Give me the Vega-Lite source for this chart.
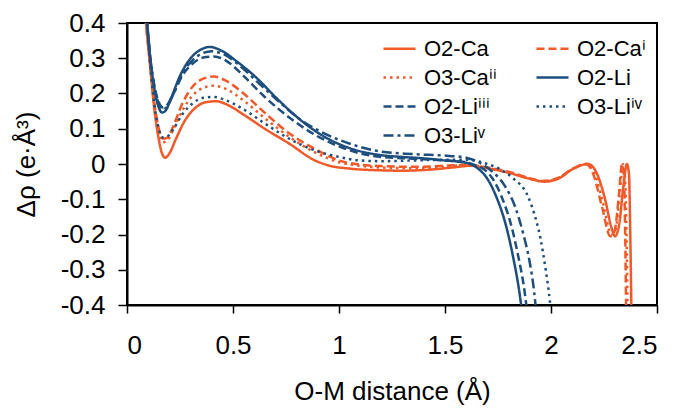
{
  "$schema": "https://vega.github.io/schema/vega-lite/v6.json",
  "width": 530,
  "height": 282,
  "autosize": {"type": "none"},
  "padding": {"left": 127, "top": 23, "right": 25, "bottom": 103},
  "background": "white",
  "config": {
    "font": "Liberation Sans",
    "view": {"stroke": "black", "strokeWidth": 2},
    "axis": {"grid": false, "domainColor": "black", "domainWidth": 2, "tickColor": "black", "tickWidth": 1.5, "labelColor": "black", "titleColor": "black", "labelFont": "Liberation Sans", "titleFont": "Liberation Sans", "labelFontSize": 26, "titleFontSize": 26, "titleFontWeight": "normal"}
  },
  "data": {"values": [
    {"s":"O2-Ca","x":0.08,"y":0.48},{"s":"O2-Ca","x":0.09,"y":0.40},{"s":"O2-Ca","x":0.11,"y":0.27},{"s":"O2-Ca","x":0.13,"y":0.15},{"s":"O2-Ca","x":0.15,"y":0.07},{"s":"O2-Ca","x":0.165,"y":0.03},{"s":"O2-Ca","x":0.18,"y":0.018},{"s":"O2-Ca","x":0.2,"y":0.03},{"s":"O2-Ca","x":0.23,"y":0.07},{"s":"O2-Ca","x":0.27,"y":0.12},{"s":"O2-Ca","x":0.32,"y":0.158},{"s":"O2-Ca","x":0.37,"y":0.175},{"s":"O2-Ca","x":0.42,"y":0.178},{"s":"O2-Ca","x":0.48,"y":0.166},{"s":"O2-Ca","x":0.55,"y":0.14},{"s":"O2-Ca","x":0.65,"y":0.1},{"s":"O2-Ca","x":0.77,"y":0.056},{"s":"O2-Ca","x":0.88,"y":0.012},{"s":"O2-Ca","x":0.95,"y":-0.004},{"s":"O2-Ca","x":1.05,"y":-0.013},{"s":"O2-Ca","x":1.2,"y":-0.018},{"s":"O2-Ca","x":1.3,"y":-0.019},{"s":"O2-Ca","x":1.45,"y":-0.015},{"s":"O2-Ca","x":1.55,"y":-0.009},{"s":"O2-Ca","x":1.62,"y":-0.005},{"s":"O2-Ca","x":1.7,"y":-0.012},{"s":"O2-Ca","x":1.8,"y":-0.025},{"s":"O2-Ca","x":1.9,"y":-0.042},{"s":"O2-Ca","x":1.97,"y":-0.05},{"s":"O2-Ca","x":2.04,"y":-0.04},{"s":"O2-Ca","x":2.1,"y":-0.015},{"s":"O2-Ca","x":2.175,"y":0.0},{"s":"O2-Ca","x":2.215,"y":-0.025},{"s":"O2-Ca","x":2.255,"y":-0.1},{"s":"O2-Ca","x":2.285,"y":-0.18},{"s":"O2-Ca","x":2.302,"y":-0.205},{"s":"O2-Ca","x":2.322,"y":-0.17},{"s":"O2-Ca","x":2.342,"y":-0.06},{"s":"O2-Ca","x":2.358,"y":0.0},{"s":"O2-Ca","x":2.368,"y":-0.03},{"s":"O2-Ca","x":2.374,"y":-0.2},{"s":"O2-Ca","x":2.38,"y":-0.45},
    {"s":"O2-Caⁱ","x":0.08,"y":0.48},{"s":"O2-Caⁱ","x":0.09,"y":0.40},{"s":"O2-Caⁱ","x":0.11,"y":0.28},{"s":"O2-Caⁱ","x":0.13,"y":0.17},{"s":"O2-Caⁱ","x":0.15,"y":0.10},{"s":"O2-Caⁱ","x":0.17,"y":0.072},{"s":"O2-Caⁱ","x":0.19,"y":0.075},{"s":"O2-Caⁱ","x":0.22,"y":0.11},{"s":"O2-Caⁱ","x":0.26,"y":0.17},{"s":"O2-Caⁱ","x":0.31,"y":0.22},{"s":"O2-Caⁱ","x":0.36,"y":0.242},{"s":"O2-Caⁱ","x":0.41,"y":0.248},{"s":"O2-Caⁱ","x":0.47,"y":0.235},{"s":"O2-Caⁱ","x":0.55,"y":0.2},{"s":"O2-Caⁱ","x":0.65,"y":0.145},{"s":"O2-Caⁱ","x":0.77,"y":0.085},{"s":"O2-Caⁱ","x":0.88,"y":0.045},{"s":"O2-Caⁱ","x":1.0,"y":0.01},{"s":"O2-Caⁱ","x":1.1,"y":-0.002},{"s":"O2-Caⁱ","x":1.2,"y":-0.006},{"s":"O2-Caⁱ","x":1.35,"y":-0.008},{"s":"O2-Caⁱ","x":1.5,"y":-0.005},{"s":"O2-Caⁱ","x":1.6,"y":-0.002},{"s":"O2-Caⁱ","x":1.7,"y":-0.01},{"s":"O2-Caⁱ","x":1.8,"y":-0.022},{"s":"O2-Caⁱ","x":1.9,"y":-0.04},{"s":"O2-Caⁱ","x":1.96,"y":-0.048},{"s":"O2-Caⁱ","x":2.03,"y":-0.04},{"s":"O2-Caⁱ","x":2.1,"y":-0.015},{"s":"O2-Caⁱ","x":2.165,"y":0.0},{"s":"O2-Caⁱ","x":2.2,"y":-0.03},{"s":"O2-Caⁱ","x":2.24,"y":-0.12},{"s":"O2-Caⁱ","x":2.28,"y":-0.205},{"s":"O2-Caⁱ","x":2.3,"y":-0.19},{"s":"O2-Caⁱ","x":2.32,"y":-0.09},{"s":"O2-Caⁱ","x":2.335,"y":0.0},{"s":"O2-Caⁱ","x":2.345,"y":-0.05},{"s":"O2-Caⁱ","x":2.35,"y":-0.2},{"s":"O2-Caⁱ","x":2.355,"y":-0.45},
    {"s":"O3-Caⁱⁱ","x":0.08,"y":0.48},{"s":"O3-Caⁱⁱ","x":0.09,"y":0.40},{"s":"O3-Caⁱⁱ","x":0.11,"y":0.28},{"s":"O3-Caⁱⁱ","x":0.13,"y":0.16},{"s":"O3-Caⁱⁱ","x":0.15,"y":0.09},{"s":"O3-Caⁱⁱ","x":0.17,"y":0.062},{"s":"O3-Caⁱⁱ","x":0.19,"y":0.066},{"s":"O3-Caⁱⁱ","x":0.22,"y":0.1},{"s":"O3-Caⁱⁱ","x":0.26,"y":0.15},{"s":"O3-Caⁱⁱ","x":0.31,"y":0.195},{"s":"O3-Caⁱⁱ","x":0.36,"y":0.216},{"s":"O3-Caⁱⁱ","x":0.41,"y":0.222},{"s":"O3-Caⁱⁱ","x":0.47,"y":0.212},{"s":"O3-Caⁱⁱ","x":0.55,"y":0.18},{"s":"O3-Caⁱⁱ","x":0.65,"y":0.13},{"s":"O3-Caⁱⁱ","x":0.77,"y":0.075},{"s":"O3-Caⁱⁱ","x":0.88,"y":0.035},{"s":"O3-Caⁱⁱ","x":1.0,"y":0.005},{"s":"O3-Caⁱⁱ","x":1.1,"y":-0.005},{"s":"O3-Caⁱⁱ","x":1.2,"y":-0.01},{"s":"O3-Caⁱⁱ","x":1.35,"y":-0.012},{"s":"O3-Caⁱⁱ","x":1.5,"y":-0.008},{"s":"O3-Caⁱⁱ","x":1.6,"y":-0.003},{"s":"O3-Caⁱⁱ","x":1.7,"y":-0.011},{"s":"O3-Caⁱⁱ","x":1.8,"y":-0.024},{"s":"O3-Caⁱⁱ","x":1.9,"y":-0.042},{"s":"O3-Caⁱⁱ","x":1.965,"y":-0.05},{"s":"O3-Caⁱⁱ","x":2.035,"y":-0.04},{"s":"O3-Caⁱⁱ","x":2.1,"y":-0.014},{"s":"O3-Caⁱⁱ","x":2.165,"y":0.0},{"s":"O3-Caⁱⁱ","x":2.205,"y":-0.025},{"s":"O3-Caⁱⁱ","x":2.245,"y":-0.11},{"s":"O3-Caⁱⁱ","x":2.285,"y":-0.2},{"s":"O3-Caⁱⁱ","x":2.305,"y":-0.185},{"s":"O3-Caⁱⁱ","x":2.325,"y":-0.08},{"s":"O3-Caⁱⁱ","x":2.34,"y":0.0},{"s":"O3-Caⁱⁱ","x":2.35,"y":-0.05},{"s":"O3-Caⁱⁱ","x":2.356,"y":-0.2},{"s":"O3-Caⁱⁱ","x":2.362,"y":-0.45},
    {"s":"O2-Li","x":0.085,"y":0.48},{"s":"O2-Li","x":0.095,"y":0.40},{"s":"O2-Li","x":0.11,"y":0.30},{"s":"O2-Li","x":0.13,"y":0.21},{"s":"O2-Li","x":0.15,"y":0.16},{"s":"O2-Li","x":0.165,"y":0.146},{"s":"O2-Li","x":0.18,"y":0.15},{"s":"O2-Li","x":0.21,"y":0.19},{"s":"O2-Li","x":0.25,"y":0.25},{"s":"O2-Li","x":0.3,"y":0.3},{"s":"O2-Li","x":0.35,"y":0.325},{"s":"O2-Li","x":0.39,"y":0.332},{"s":"O2-Li","x":0.45,"y":0.32},{"s":"O2-Li","x":0.52,"y":0.29},{"s":"O2-Li","x":0.61,"y":0.245},{"s":"O2-Li","x":0.7,"y":0.19},{"s":"O2-Li","x":0.77,"y":0.15},{"s":"O2-Li","x":0.85,"y":0.11},{"s":"O2-Li","x":0.91,"y":0.085},{"s":"O2-Li","x":1.05,"y":0.045},{"s":"O2-Li","x":1.2,"y":0.025},{"s":"O2-Li","x":1.3,"y":0.02},{"s":"O2-Li","x":1.42,"y":0.015},{"s":"O2-Li","x":1.5,"y":0.01},{"s":"O2-Li","x":1.56,"y":0.007},{"s":"O2-Li","x":1.62,"y":0.0},{"s":"O2-Li","x":1.66,"y":-0.015},{"s":"O2-Li","x":1.7,"y":-0.042},{"s":"O2-Li","x":1.74,"y":-0.09},{"s":"O2-Li","x":1.79,"y":-0.18},{"s":"O2-Li","x":1.82,"y":-0.26},{"s":"O2-Li","x":1.85,"y":-0.36},{"s":"O2-Li","x":1.87,"y":-0.45},
    {"s":"O2-Liⁱⁱⁱ","x":0.085,"y":0.48},{"s":"O2-Liⁱⁱⁱ","x":0.095,"y":0.40},{"s":"O2-Liⁱⁱⁱ","x":0.11,"y":0.30},{"s":"O2-Liⁱⁱⁱ","x":0.13,"y":0.22},{"s":"O2-Liⁱⁱⁱ","x":0.15,"y":0.175},{"s":"O2-Liⁱⁱⁱ","x":0.17,"y":0.16},{"s":"O2-Liⁱⁱⁱ","x":0.19,"y":0.168},{"s":"O2-Liⁱⁱⁱ","x":0.22,"y":0.2},{"s":"O2-Liⁱⁱⁱ","x":0.26,"y":0.25},{"s":"O2-Liⁱⁱⁱ","x":0.31,"y":0.285},{"s":"O2-Liⁱⁱⁱ","x":0.36,"y":0.302},{"s":"O2-Liⁱⁱⁱ","x":0.41,"y":0.305},{"s":"O2-Liⁱⁱⁱ","x":0.47,"y":0.292},{"s":"O2-Liⁱⁱⁱ","x":0.55,"y":0.25},{"s":"O2-Liⁱⁱⁱ","x":0.65,"y":0.19},{"s":"O2-Liⁱⁱⁱ","x":0.77,"y":0.13},{"s":"O2-Liⁱⁱⁱ","x":0.88,"y":0.085},{"s":"O2-Liⁱⁱⁱ","x":1.0,"y":0.05},{"s":"O2-Liⁱⁱⁱ","x":1.1,"y":0.03},{"s":"O2-Liⁱⁱⁱ","x":1.2,"y":0.02},{"s":"O2-Liⁱⁱⁱ","x":1.35,"y":0.015},{"s":"O2-Liⁱⁱⁱ","x":1.5,"y":0.01},{"s":"O2-Liⁱⁱⁱ","x":1.6,"y":0.005},{"s":"O2-Liⁱⁱⁱ","x":1.65,"y":-0.005},{"s":"O2-Liⁱⁱⁱ","x":1.69,"y":-0.018},{"s":"O2-Liⁱⁱⁱ","x":1.725,"y":-0.042},{"s":"O2-Liⁱⁱⁱ","x":1.765,"y":-0.09},{"s":"O2-Liⁱⁱⁱ","x":1.815,"y":-0.18},{"s":"O2-Liⁱⁱⁱ","x":1.845,"y":-0.26},{"s":"O2-Liⁱⁱⁱ","x":1.875,"y":-0.36},{"s":"O2-Liⁱⁱⁱ","x":1.893,"y":-0.45},
    {"s":"O3-Liⁱᵛ","x":0.085,"y":0.48},{"s":"O3-Liⁱᵛ","x":0.095,"y":0.40},{"s":"O3-Liⁱᵛ","x":0.11,"y":0.28},{"s":"O3-Liⁱᵛ","x":0.13,"y":0.165},{"s":"O3-Liⁱᵛ","x":0.15,"y":0.1},{"s":"O3-Liⁱᵛ","x":0.17,"y":0.075},{"s":"O3-Liⁱᵛ","x":0.19,"y":0.078},{"s":"O3-Liⁱᵛ","x":0.22,"y":0.1},{"s":"O3-Liⁱᵛ","x":0.26,"y":0.14},{"s":"O3-Liⁱᵛ","x":0.31,"y":0.172},{"s":"O3-Liⁱᵛ","x":0.36,"y":0.188},{"s":"O3-Liⁱᵛ","x":0.41,"y":0.19},{"s":"O3-Liⁱᵛ","x":0.47,"y":0.18},{"s":"O3-Liⁱᵛ","x":0.55,"y":0.155},{"s":"O3-Liⁱᵛ","x":0.65,"y":0.115},{"s":"O3-Liⁱᵛ","x":0.77,"y":0.07},{"s":"O3-Liⁱᵛ","x":0.88,"y":0.04},{"s":"O3-Liⁱᵛ","x":1.0,"y":0.02},{"s":"O3-Liⁱᵛ","x":1.1,"y":0.01},{"s":"O3-Liⁱᵛ","x":1.2,"y":0.008},{"s":"O3-Liⁱᵛ","x":1.35,"y":0.01},{"s":"O3-Liⁱᵛ","x":1.5,"y":0.012},{"s":"O3-Liⁱᵛ","x":1.6,"y":0.012},{"s":"O3-Liⁱᵛ","x":1.7,"y":0.0},{"s":"O3-Liⁱᵛ","x":1.76,"y":-0.015},{"s":"O3-Liⁱᵛ","x":1.82,"y":-0.04},{"s":"O3-Liⁱᵛ","x":1.89,"y":-0.09},{"s":"O3-Liⁱᵛ","x":1.93,"y":-0.16},{"s":"O3-Liⁱᵛ","x":1.95,"y":-0.21},{"s":"O3-Liⁱᵛ","x":1.975,"y":-0.3},{"s":"O3-Liⁱᵛ","x":1.995,"y":-0.39},{"s":"O3-Liⁱᵛ","x":2.005,"y":-0.45},
    {"s":"O3-Liᵛ","x":0.085,"y":0.48},{"s":"O3-Liᵛ","x":0.095,"y":0.40},{"s":"O3-Liᵛ","x":0.11,"y":0.30},{"s":"O3-Liᵛ","x":0.13,"y":0.215},{"s":"O3-Liᵛ","x":0.15,"y":0.17},{"s":"O3-Liᵛ","x":0.167,"y":0.155},{"s":"O3-Liᵛ","x":0.185,"y":0.16},{"s":"O3-Liᵛ","x":0.22,"y":0.2},{"s":"O3-Liᵛ","x":0.26,"y":0.255},{"s":"O3-Liᵛ","x":0.31,"y":0.295},{"s":"O3-Liᵛ","x":0.36,"y":0.315},{"s":"O3-Liᵛ","x":0.4,"y":0.32},{"s":"O3-Liᵛ","x":0.46,"y":0.31},{"s":"O3-Liᵛ","x":0.53,"y":0.28},{"s":"O3-Liᵛ","x":0.62,"y":0.23},{"s":"O3-Liᵛ","x":0.72,"y":0.175},{"s":"O3-Liᵛ","x":0.82,"y":0.125},{"s":"O3-Liᵛ","x":0.92,"y":0.09},{"s":"O3-Liᵛ","x":1.03,"y":0.062},{"s":"O3-Liᵛ","x":1.19,"y":0.036},{"s":"O3-Liᵛ","x":1.35,"y":0.028},{"s":"O3-Liᵛ","x":1.52,"y":0.023},{"s":"O3-Liᵛ","x":1.6,"y":0.018},{"s":"O3-Liᵛ","x":1.66,"y":0.005},{"s":"O3-Liᵛ","x":1.72,"y":-0.02},{"s":"O3-Liᵛ","x":1.78,"y":-0.06},{"s":"O3-Liᵛ","x":1.83,"y":-0.12},{"s":"O3-Liᵛ","x":1.87,"y":-0.2},{"s":"O3-Liᵛ","x":1.9,"y":-0.28},{"s":"O3-Liᵛ","x":1.92,"y":-0.36},{"s":"O3-Liᵛ","x":1.935,"y":-0.45}
  ]},
  "mark": {"type": "line", "clip": true, "strokeWidth": 2.5, "interpolate": "monotone"},
  "encoding": {
    "x": {"field": "x", "type": "quantitative",
      "scale": {"domain": [0, 2.5], "nice": false, "zero": false},
      "axis": {"values": [0, 0.5, 1, 1.5, 2, 2.5], "labelExpr": "datum.value + ''", "tickSize": 8, "labelPadding": 19, "title": "O-M distance (Å)", "titlePadding": 20}},
    "y": {"field": "y", "type": "quantitative",
      "scale": {"domain": [-0.4, 0.4], "nice": false, "zero": false},
      "axis": {"values": [-0.4, -0.3, -0.2, -0.1, 0, 0.1, 0.2, 0.3, 0.4], "labelExpr": "datum.value + ''", "tickSize": 9, "labelPadding": 13, "title": "Δρ (e·Å³)", "titlePadding": 21}},
    "color": {"field": "s", "type": "nominal",
      "scale": {"domain": ["O2-Ca", "O2-Caⁱ", "O3-Caⁱⁱ", "O2-Li", "O2-Liⁱⁱⁱ", "O3-Liⁱᵛ", "O3-Liᵛ"],
        "range": ["#F05A28", "#F05A28", "#F05A28", "#1D4E7E", "#1D4E7E", "#1D4E7E", "#1D4E7E"]},
      "legend": {"orient": "none", "legendX": 255, "legendY": 8, "direction": "horizontal", "columns": 2, "title": null, "symbolType": "stroke", "symbolSize": 1024, "symbolStrokeWidth": 2.5, "labelFontSize": 22, "labelFont": "Liberation Sans", "labelColor": "black", "rowPadding": -4.5, "columnPadding": 34, "labelOffset": 7, "labelLimit": 200}},
    "strokeDash": {"field": "s", "type": "nominal",
      "scale": {"domain": ["O2-Ca", "O2-Caⁱ", "O3-Caⁱⁱ", "O2-Li", "O2-Liⁱⁱⁱ", "O3-Liⁱᵛ", "O3-Liᵛ"],
        "range": [[1, 0], [8, 4], [2.5, 4], [1, 0], [8, 4], [2.5, 4], [10, 4, 3, 4]]}}
  }
}
